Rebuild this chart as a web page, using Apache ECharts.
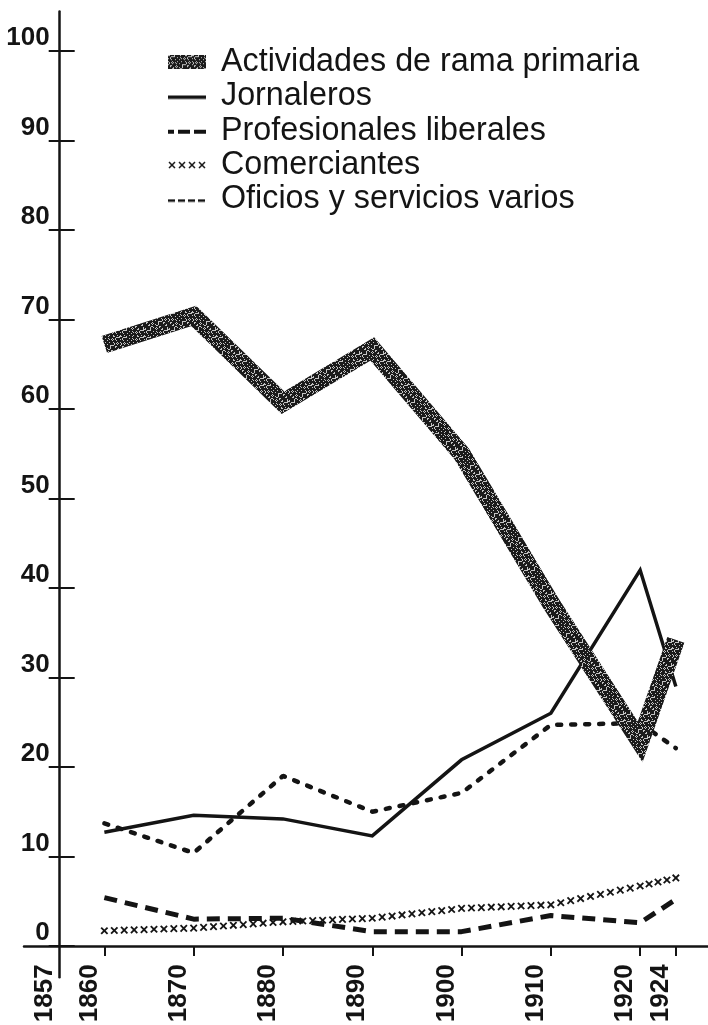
<!DOCTYPE html>
<html>
<head>
<meta charset="utf-8">
<script src="https://cdn.jsdelivr.net/npm/echarts@6/dist/echarts.min.js"></script>
<style>
  html, body { margin: 0; padding: 0; background: #fff; }
  #chart { width: 708px; height: 1025px; }
</style>
</head>
<body>
<div id="chart"></div>
<script>
// census years and shares (%)
const years = [1860, 1870, 1880, 1890, 1900, 1910, 1920, 1924]
const primaria = [67.2, 70.4, 60.7, 66.7, 55.0, 38.3, 22.8, 34.2]
const jornaleros = [12.7, 14.6, 14.2, 12.3, 20.8, 26.0, 42.0, 29.0]
const profesionales = [5.4, 3.0, 3.1, 1.6, 1.6, 3.4, 2.6, 5.2]
const comerciantes = [1.7, 2.0, 2.7, 3.1, 4.2, 4.6, 6.7, 7.6]
const oficios = [13.7, 10.4, 19.0, 15.0, 17.1, 24.7, 24.9, 22.1]

const names = [
  'Actividades de rama primaria',
  'Jornaleros',
  'Profesionales liberales',
  'Comerciantes',
  'Oficios y servicios varios'
]

const yTicks = [0, 10, 20, 30, 40, 50, 60, 70, 80, 90, 100]
const xTicks = [1860, 1870, 1880, 1890, 1900, 1910, 1920, 1924]
// the print labels the foot of the vertical axis "1857", off the regular scale
const originYear = 1855
const originLabel = '1857'

const INK = '#141414'
const X_GAP = 10.4
const X_HALF = 3.2

const makeCanvas = (w, h) => {
  const c = document.createElement('canvas')
  c.width = w
  c.height = h
  return c
}

// speckled grey texture of the thick band
const speckle = makeCanvas(24, 24)
{
  const ctx = speckle.getContext('2d')
  ctx.fillStyle = '#1b1b1b'
  ctx.fillRect(0, 0, 24, 24)
  ctx.fillStyle = '#c4c4c4'
  for (let y = 0; y < 24; y++) {
    for (let x = 0; x < 24; x++) {
      if ((x * 37 + y * 91 + x * y * 13) % 17 < 4) ctx.fillRect(x, y, 1, 1)
    }
  }
}

// legend icons drawn like the printed key
const ICON_W = 38
const ICON_H = 14
const iconOf = draw => {
  const c = makeCanvas(ICON_W, ICON_H)
  draw(c.getContext('2d'))
  return 'image://' + c.toDataURL()
}
const icons = [
  iconOf(ctx => {
    ctx.fillStyle = ctx.createPattern(speckle, 'repeat')
    ctx.fillRect(0, 0, ICON_W, ICON_H)
  }),
  iconOf(ctx => {
    ctx.fillStyle = INK
    ctx.fillRect(0, 6, ICON_W, 3.5)
  }),
  iconOf(ctx => {
    ctx.fillStyle = INK
    ctx.fillRect(0, 6, 6, 4)
    ctx.fillRect(10, 6, 12, 4)
    ctx.fillRect(26, 6, 12, 4)
  }),
  iconOf(ctx => {
    ctx.strokeStyle = INK
    ctx.lineWidth = 1.5
    for (let k = 0; k < 4; k++) {
      const cx = 4 + k * 10
      ctx.beginPath()
      ctx.moveTo(cx - 3, 4); ctx.lineTo(cx + 3, 10)
      ctx.moveTo(cx - 3, 10); ctx.lineTo(cx + 3, 4)
      ctx.stroke()
    }
  }),
  iconOf(ctx => {
    ctx.fillStyle = INK
    for (let k = 0; k < 4; k++) ctx.fillRect(k * 10, 7, 7, 2.5)
  })
]

const pairs = vals => years.map((y, i) => [y, vals[i]])

// row of small x's following the Comerciantes polyline
const renderCrosses = (params, api) => {
  const i = params.dataIndex
  if (i >= years.length - 1) return
  const p0 = api.coord([years[i], comerciantes[i]])
  const p1 = api.coord([years[i + 1], comerciantes[i + 1]])
  const dx = p1[0] - p0[0]
  const dy = p1[1] - p0[1]
  const n = Math.max(1, Math.round(Math.hypot(dx, dy) / X_GAP))
  const last = i === years.length - 2
  const style = { stroke: INK, lineWidth: 1.8 }
  const children = []
  for (let k = 0; k <= (last ? n : n - 1); k++) {
    const cx = p0[0] + dx * k / n
    const cy = p0[1] + dy * k / n
    children.push({ type: 'line', shape: { x1: cx - X_HALF, y1: cy - X_HALF, x2: cx + X_HALF, y2: cy + X_HALF }, style })
    children.push({ type: 'line', shape: { x1: cx - X_HALF, y1: cy + X_HALF, x2: cx + X_HALF, y2: cy - X_HALF }, style })
  }
  return { type: 'group', children }
}

const chart = echarts.init(document.getElementById('chart'))

const tickLine = { color: INK, width: 2 }

const option = {
  backgroundColor: '#fff',
  animation: false,
  grid: { left: 24, right: 0, top: 11.6, bottom: 47.7, outerBoundsMode: 'none', containLabel: false },
  legend: {
    orient: 'vertical',
    left: 168,
    top: 45,
    padding: 0,
    itemGap: 0,
    itemWidth: ICON_W,
    itemHeight: ICON_H,
    selectedMode: false,
    textStyle: {
      fontFamily: 'Liberation Sans, Arial, sans-serif',
      fontSize: 32.3,
      lineHeight: 34.3,
      color: INK,
      padding: [0, 0, 0, 10]
    },
    data: names.map((name, i) => ({ name, icon: icons[i] }))
  },
  xAxis: {
    type: 'value',
    min: 1851,
    max: 1927.6,
    axisLine: { onZero: true, onZeroAxisIndex: 0, lineStyle: { color: INK, width: 2.5 } },
    axisTick: { show: true, customValues: xTicks, length: 10, lineStyle: tickLine },
    axisLabel: {
      customValues: [originYear, ...xTicks],
      formatter: v => (v === originYear ? originLabel : String(v)),
      rotate: 90,
      // rotated text sits just left of its tick, as printed
      verticalAlign: 'bottom',
      lineHeight: 30,
      // labels are measured from the grid foot (31px under the zero line)
      margin: -13,
      fontFamily: 'Liberation Sans, Arial, sans-serif',
      fontWeight: 'bold',
      fontSize: 26,
      color: INK
    },
    splitLine: { show: false }
  },
  yAxis: [
    {
      type: 'value',
      min: -3.5,
      max: 104.4,
      position: 'left',
      offset: -35.7,
      axisLine: { show: true, onZero: false, lineStyle: { color: INK, width: 2.5 } },
      axisTick: { show: true, inside: true, length: 15, customValues: yTicks, lineStyle: tickLine },
      axisLabel: {
        customValues: yTicks,
        margin: 10,
        verticalAlign: 'bottom',
        fontFamily: 'Liberation Sans, Arial, sans-serif',
        fontWeight: 'bold',
        fontSize: 26,
        color: INK
      },
      splitLine: { show: false }
    },
    {
      type: 'value',
      min: -3.5,
      max: 104.4,
      position: 'left',
      offset: -35.7,
      axisLine: { show: false, onZero: false },
      axisTick: { show: true, length: 11, customValues: yTicks, lineStyle: tickLine },
      axisLabel: { show: false },
      splitLine: { show: false }
    }
  ],
  series: [
    {
      name: names[0],
      type: 'line',
      data: pairs(primaria),
      symbol: 'none',
      z: 5,
      itemStyle: { color: '#333' },
      lineStyle: { color: { image: speckle, repeat: 'repeat' }, width: 18, join: 'miter', miterLimit: 10, cap: 'butt' }
    },
    {
      name: names[1],
      type: 'line',
      data: pairs(jornaleros),
      symbol: 'none',
      z: 3,
      itemStyle: { color: INK },
      lineStyle: { color: INK, width: 3.5, join: 'miter' }
    },
    {
      name: names[2],
      type: 'line',
      data: pairs(profesionales),
      symbol: 'none',
      z: 3,
      itemStyle: { color: INK },
      lineStyle: { color: INK, width: 5, type: [13, 8], cap: 'butt' }
    },
    {
      name: names[3],
      type: 'custom',
      data: pairs(comerciantes),
      encode: { x: 0, y: 1 },
      z: 3,
      itemStyle: { color: INK },
      renderItem: renderCrosses
    },
    {
      name: names[4],
      type: 'line',
      data: pairs(oficios),
      symbol: 'none',
      z: 3,
      itemStyle: { color: INK },
      lineStyle: { color: INK, width: 4.5, type: [4, 10], cap: 'round' }
    }
  ]
}

chart.setOption(option)
window.addEventListener('resize', () => chart.resize())
</script>
</body>
</html>
